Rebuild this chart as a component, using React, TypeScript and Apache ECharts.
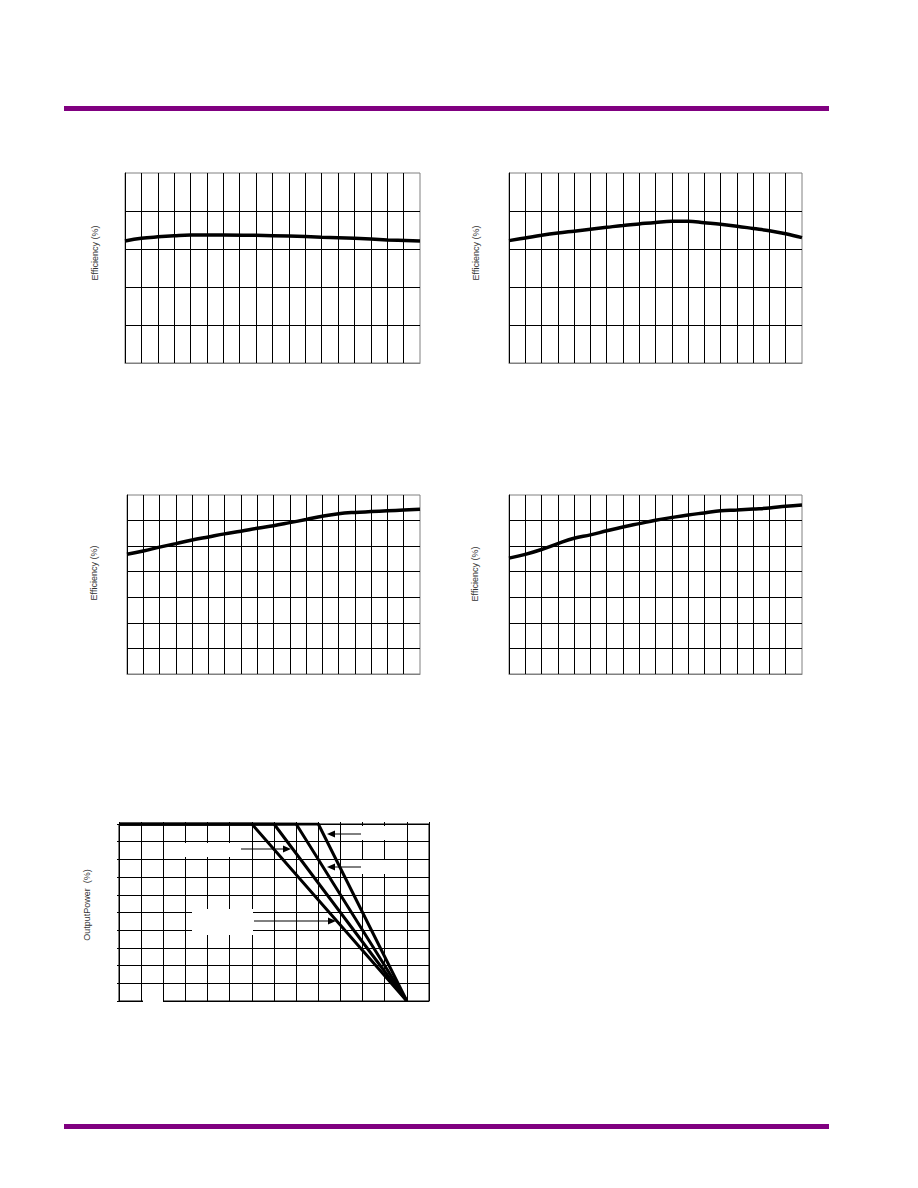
import React, { useEffect, useRef } from "react";
import * as echarts from "echarts";

// ---- Data (axis labels were blank in the source) ----
// Chart 1: efficiency curve (x = grid column index 0..18, y in %)
const eff1X = [0, 1, 2, 3, 4, 6, 8, 10, 12, 14, 16, 18];
const eff1Y = [82.1, 82.8, 83.2, 83.5, 83.7, 83.7, 83.6, 83.4, 83.1, 82.8, 82.4, 82.1];

// Chart 2
const eff2X = [0, 1, 2, 3, 4, 5, 6, 7, 8, 9, 10, 11, 12, 13, 14, 15, 16, 17, 18];
const eff2Y = [82.2, 82.9, 83.6, 84.2, 84.7, 85.2, 85.7, 86.2, 86.6, 87.0, 87.3, 87.3, 86.9, 86.5, 86.0, 85.4, 84.8, 84.0, 83.0];

// Chart 3
const eff3X = [0, 1, 2, 3, 4, 5, 6, 7, 8, 9, 10, 11, 12, 13, 14, 15, 16, 17, 18];
const eff3Y = [76.8, 78.1, 79.6, 81.0, 82.4, 83.6, 84.8, 85.8, 87.0, 88.0, 89.2, 90.4, 91.7, 92.7, 93.2, 93.5, 93.8, 94.1, 94.4];

// Chart 4
const eff4X = [0, 1, 2, 3, 4, 5, 6, 7, 8, 9, 10, 11, 12, 13, 14, 15, 16, 17, 18];
const eff4Y = [75.3, 76.8, 78.7, 81.0, 83.1, 84.4, 86.0, 87.5, 88.8, 90.1, 91.2, 92.2, 93.0, 93.8, 94.1, 94.5, 94.9, 95.6, 96.1];

// Chart 5: output power derating vs. ambient temperature
const tempStart = -40;
const derateStartTemps = [20, 30, 40, 50];
const derateEndTemp = 90;
const fullPower = 100;
const zeroPower = 0;

const GRAY = "#808080";
const BLACK = "#000000";
const PURPLE = "#800080";

function effAxes(grid: number, yMin: number) {
  const x = {
    gridIndex: grid,
    type: "value",
    min: 0,
    max: 18,
    interval: 1,
    axisLine: { show: true, lineStyle: { color: GRAY, width: 1 } },
    axisTick: { show: false },
    axisLabel: { show: false },
    splitLine: { show: true, showMinLine: false, showMaxLine: false, lineStyle: { color: BLACK, width: 1 } },
  };
  const y = {
    gridIndex: grid,
    type: "value",
    min: yMin,
    max: 100,
    interval: 10,
    axisLine: { show: true, onZero: false, lineStyle: { color: BLACK, width: 1 } },
    axisTick: { show: false },
    axisLabel: { show: false },
    splitLine: { show: true, showMinLine: false, showMaxLine: false, lineStyle: { color: BLACK, width: 1 } },
  };
  return { x, y };
}

function effSeries(idx: number, xs: number[], ys: number[]) {
  return {
    type: "line",
    xAxisIndex: idx,
    yAxisIndex: idx,
    data: xs.map((v, i) => [v, ys[i]]),
    smooth: 0.4,
    showSymbol: false,
    lineStyle: { color: BLACK, width: 3.5 },
    z: 5,
  };
}

function arrow(x1: number, x2: number, y: number) {
  const dir = x2 > x1 ? 1 : -1;
  const headLen = 8;
  const half = 3.5;
  return [
    { type: "line", z: 120, shape: { x1, y1: y, x2: x2 - dir * headLen, y2: y }, style: { stroke: BLACK, lineWidth: 1 } },
    {
      type: "polygon",
      z: 120,
      shape: { points: [[x2, y], [x2 - dir * headLen, y - half], [x2 - dir * headLen, y + half]] },
      style: { fill: BLACK },
    },
  ];
}

function whiteBox(x: number, y: number, w: number, h: number) {
  return { type: "rect", z: 110, shape: { x, y, width: w, height: h }, style: { fill: "#ffffff" } };
}

function vLabel(text: string, x: number, y: number) {
  return {
    type: "text",
    z: 120,
    x,
    y,
    rotation: Math.PI / 2,
    style: {
      text,
      fill: "#333333",
      font: '9px "Liberation Sans", Arial, sans-serif',
      align: "center",
      verticalAlign: "middle",
    },
  };
}

export default function App() {
  const ref = useRef<HTMLDivElement>(null);

  useEffect(() => {
    if (!ref.current) return;
    const chart = echarts.init(ref.current, undefined, { renderer: "svg" });

    const a1 = effAxes(0, 50);
    const a2 = effAxes(1, 50);
    const a3 = effAxes(2, 30);
    const a4 = effAxes(3, 30);

    const derateSeries = derateStartTemps.map((t) => ({
      type: "line",
      xAxisIndex: 4,
      yAxisIndex: 4,
      data: [
        [tempStart, fullPower],
        [t, fullPower],
        [derateEndTemp, zeroPower],
      ],
      showSymbol: false,
      lineStyle: { color: BLACK, width: 3 },
      z: 5,
    }));

    chart.setOption({
      animation: false,
      backgroundColor: "#ffffff",
      grid: [
        { left: 125, top: 173, width: 295, height: 190, show: true, borderColor: GRAY, borderWidth: 1 },
        { left: 509, top: 173, width: 293, height: 190, show: true, borderColor: GRAY, borderWidth: 1 },
        { left: 127, top: 495, width: 293, height: 179, show: true, borderColor: GRAY, borderWidth: 1 },
        { left: 509, top: 495, width: 293, height: 179, show: true, borderColor: GRAY, borderWidth: 1 },
        { left: 119, top: 824, width: 310, height: 177, show: true, borderColor: BLACK, borderWidth: 1 },
      ],
      xAxis: [
        a1.x,
        a2.x,
        a3.x,
        a4.x,
        {
          gridIndex: 4,
          type: "value",
          min: -40,
          max: 100,
          interval: 10,
          axisLine: { show: true, lineStyle: { color: BLACK, width: 1 } },
          axisTick: { show: false },
          axisLabel: { show: false },
          splitLine: { show: true, lineStyle: { color: BLACK, width: 1 } },
        },
        {
          gridIndex: 4,
          type: "value",
          position: "top",
          min: -40,
          max: 100,
          interval: 10,
          axisLine: { show: true, lineStyle: { color: BLACK, width: 1 } },
          axisTick: { show: true, length: 2, lineStyle: { color: BLACK, width: 1 } },
          axisLabel: { show: false },
          splitLine: { show: false },
        },
      ],
      yAxis: [
        a1.y,
        a2.y,
        a3.y,
        a4.y,
        {
          gridIndex: 4,
          type: "value",
          min: 0,
          max: 100,
          interval: 10,
          axisLine: { show: true, onZero: false, lineStyle: { color: BLACK, width: 1 } },
          axisTick: { show: true, length: 2, lineStyle: { color: BLACK, width: 1 } },
          axisLabel: { show: false },
          splitLine: { show: true, lineStyle: { color: BLACK, width: 1 } },
        },
      ],
      series: [
        effSeries(0, eff1X, eff1Y),
        effSeries(1, eff2X, eff2Y),
        effSeries(2, eff3X, eff3Y),
        effSeries(3, eff4X, eff4Y),
        ...derateSeries,
      ],
      graphic: [
        { type: "rect", z: 100, shape: { x: 64, y: 106, width: 765, height: 5 }, style: { fill: PURPLE } },
        { type: "rect", z: 100, shape: { x: 64, y: 1124, width: 765, height: 5 }, style: { fill: PURPLE } },
        vLabel("Efficiency (%)", 95, 253),
        vLabel("Efficiency (%)", 476, 253),
        vLabel("Efficiency (%)", 94, 573),
        vLabel("Efficiency (%)", 475, 574),
        vLabel("OutputPower  (%)", 87, 905),
        whiteBox(185, 843, 52, 14),
        whiteBox(192, 909, 61, 26),
        whiteBox(143, 998, 20, 5),
        whiteBox(362, 826, 40, 14),
        whiteBox(362, 860, 40, 14),
        ...arrow(361, 327, 834),
        ...arrow(241, 291, 849),
        ...arrow(361, 327, 867),
        ...arrow(254, 336, 921),
      ],
    });

    return () => {
      chart.dispose();
    };
  }, []);

  return (
    <div
      ref={ref}
      style={{ position: "absolute", left: 0, top: 0, width: 918, height: 1188 }}
    />
  );
}
